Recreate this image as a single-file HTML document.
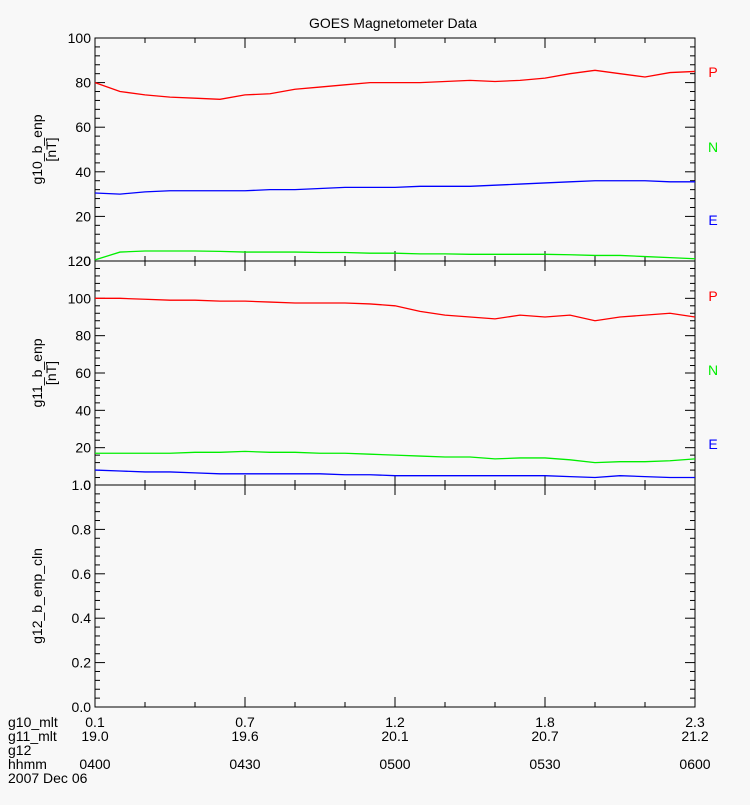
<!DOCTYPE html>
<html><head><meta charset="utf-8"><style>
body{margin:0;background:#f8f8f8}
svg text{font-family:"Liberation Sans",sans-serif;font-size:14px;fill:#000}
</style></head><body>
<svg width="750" height="800" xmlns="http://www.w3.org/2000/svg">
<rect width="750" height="800" fill="#f8f8f8"/>
<text x="393" y="28" text-anchor="middle" font-size="15">GOES Magnetometer Data</text>
<g id="plots"></g>
<g>
<text x="8" y="727">g10_mlt</text><text x="8" y="741">g11_mlt</text><text x="8" y="755">g12</text><text x="8" y="769">hhmm</text><text x="8" y="783">2007 Dec 06</text>
</g>
</svg>
<script>
const times=[0,5,10,15,20,25,30,35,40,45,50,55,60,65,70,75,80,85,90,95,100,105,110,115,120];
const xTickLabels=['0400','0430','0500','0530','0600'];
const mlt10=['0.1','0.7','1.2','1.8','2.3'];
const mlt11=['19.0','19.6','20.1','20.7','21.2'];
const g10P=[80,76,74.5,73.5,73,72.5,74.5,75,77,78,79,80,80,80,80.5,81,80.5,81,82,84,85.5,84,82.5,84.5,85];
const g10N=[0.5,4,4.5,4.5,4.5,4.3,4,4,4,3.8,3.8,3.5,3.5,3.2,3.2,3,3,3,3,2.8,2.5,2.5,2,1.5,1];
const g10E=[30.5,30,31,31.5,31.5,31.5,31.5,32,32,32.5,33,33,33,33.5,33.5,33.5,34,34.5,35,35.5,36,36,36,35.5,35.5];
const g11P=[100,100,99.5,99,99,98.5,98.5,98,97.5,97.5,97.5,97,96,93,91,90,89,91,90,91,88,90,91,92,90];
const g11N=[17,17,17,17,17.5,17.5,18,17.5,17.5,17,17,16.5,16,15.5,15,15,14,14.5,14.5,13.5,12,12.5,12.5,13,14];
const g11E=[8,7.5,7,7,6.5,6,6,6,6,6,5.5,5.5,5,5,5,5,5,5,5,4.5,4,5,4.5,4,4];
const g1Ticks=[0,20,40,60,80,100];
const g2Ticks=[0,20,40,60,80,100,120];
const g3Ticks=['0.0','0.2','0.4','0.6','0.8','1.0'];
const NS='http://www.w3.org/2000/svg';
const L=95,R=695;
const xs=t=>L+(R-L)*t/120;
const g=document.getElementById('plots');
const svg=document.querySelector('svg');
function mk(tag,attrs,parent){const e=document.createElementNS(NS,tag);for(const k in attrs)e.setAttribute(k,attrs[k]);(parent||g).appendChild(e);return e;}
function panel(top,bot,max,ticks,tickLbl,title,series,name){
  const p=mk('g',{});
  
  
  const ys=v=>bot-(bot-top)*v/max;
  mk('rect',{x:L,y:top,width:R-L,height:bot-top,fill:'none',stroke:'#000','stroke-width':1},p);
  const step=max/(ticks.length-1);
  for(let i=0;i<ticks.length;i++){
    const v=i*step,y=ys(v);
    mk('line',{x1:L,y1:y,x2:L+10,y2:y,stroke:'#000'},p);
    mk('line',{x1:R,y1:y,x2:R-10,y2:y,stroke:'#000'},p);
    const t=mk('text',{x:L-4,y:y+5,'text-anchor':'end'},p);t.textContent=tickLbl[i];
    if(i<ticks.length-1){for(let k=1;k<5;k++){const yy=ys(v+step*k/5);
      mk('line',{x1:L,y1:yy,x2:L+5,y2:yy,stroke:'#000'},p);mk('line',{x1:R,y1:yy,x2:R-5,y2:yy,stroke:'#000'},p);}}
  }
  for(let m=0;m<=120;m+=10){const x=xs(m),len=m%30==0?10:5;
    mk('line',{x1:x,y1:bot,x2:x,y2:bot-len,stroke:'#000'},p);mk('line',{x1:x,y1:top,x2:x,y2:top+len,stroke:'#000'},p);}
  const tt=mk('text',{transform:`translate(42,${(top+bot)/2}) rotate(-90)`,'text-anchor':'middle'},p);tt.textContent=title[0];
  if(title[1]){const t2=mk('text',{transform:`translate(56,${(top+bot)/2}) rotate(-90)`,'text-anchor':'middle'},p);t2.textContent=title[1];}
  series.forEach(s=>{
    const pl=mk('polyline',{points:s.d.map((v,i)=>xs(times[i])+','+ys(v)).join(' '),fill:'none',stroke:s.c,'stroke-width':1.3},p);
    
    
  });
  return ys;
}
panel(38,261,100,g1Ticks,g1Ticks.map(String),['g10_b_enp','[nT]'],[{d:g10P,c:'#f00',n:'g10-p-line'},{d:g10N,c:'#0e0',n:'g10-n-line'},{d:g10E,c:'#00f',n:'g10-e-line'}],'g10-panel');
panel(261,485,120,g2Ticks,g2Ticks.map(String),['g11_b_enp','[nT]'],[{d:g11P,c:'#f00',n:'g11-p-line'},{d:g11N,c:'#0e0',n:'g11-n-line'},{d:g11E,c:'#00f',n:'g11-e-line'}],'g11-panel');
panel(485,707,1,g3Ticks,g3Ticks,['g12_b_enp_cln'],[],'g12-panel');
[[72,'P','#f00'],[147,'N','#0e0'],[220,'E','#00f'],[296,'P','#f00'],[370,'N','#0e0'],[444,'E','#00f']].forEach(a=>{
  const t=mk('text',{x:713,y:a[0]+5,fill:a[2],'text-anchor':'middle'},svg);t.textContent=a[1];t.style.fill=a[2];
  
  
});
xTickLabels.forEach((lb,i)=>{
  const x=xs(i*30);
  [[727,mlt10[i]],[741,mlt11[i]],[769,lb]].forEach(r=>{const t=mk('text',{x:x,y:r[0],'text-anchor':'middle'},svg);t.textContent=r[1];
    
    });
});
</script>
</body></html>
